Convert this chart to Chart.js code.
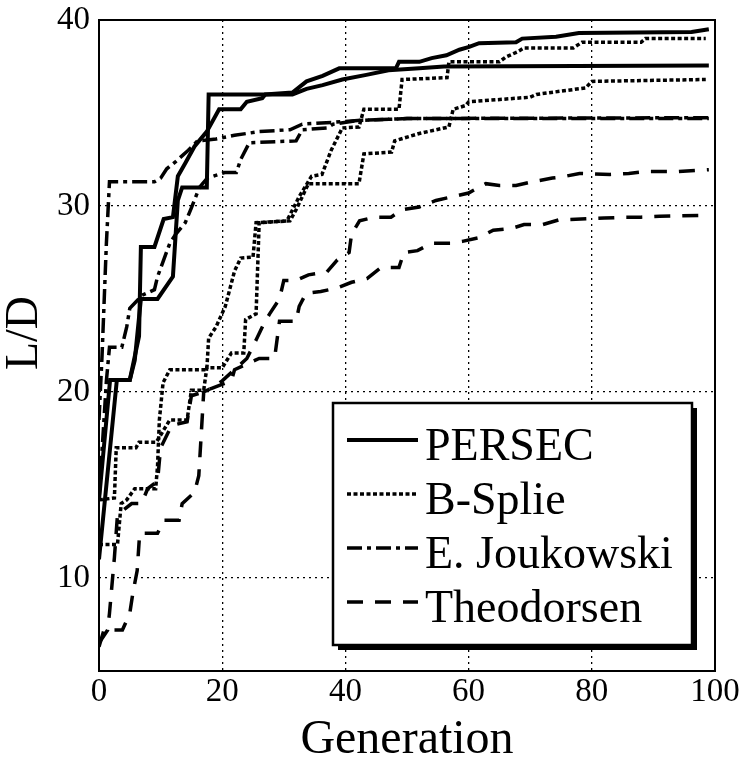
<!DOCTYPE html>
<html>
<head>
<meta charset="utf-8">
<title>L/D vs Generation</title>
<script src="https://cdn.jsdelivr.net/npm/chart.js@4.4.1/dist/chart.umd.min.js"></script>
<style>
  html, body { margin: 0; padding: 0; background: #fff; }
</style>
</head>
<body>
<canvas id="myChart" width="744" height="764"></canvas>
<script>
// axis ticks
const genTicks = [0, 20, 40, 60, 80, 100];
const ldTicks = [10, 20, 30, 40];
const methods = ['PERSEC', 'B-Splie', 'E. Joukowski', 'Theodorsen'];

// two runs per method (generation -> L/D)
const persecAGen = [0, 2.9, 5, 5.8, 6.8, 9.5, 12, 12.8, 13.5, 17.5, 17.8, 26.5, 31.4, 33.7, 36.3, 39.5, 43.4, 47, 52, 56, 99];
const persecALD  = [11.0, 20.65, 20.65, 21.7, 25.0, 25.0, 26.2, 30.3, 31.0, 31.0, 36.0, 36.0, 36.0, 36.3, 36.5, 36.8, 37.05, 37.3, 37.4, 37.5, 37.55];
const persecBGen = [0, 1.8, 5, 6.5, 6.8, 9, 10.5, 12, 12.8, 14, 15.5, 17.5, 19.5, 23, 24, 26.5, 27, 31.4, 33.7, 36.3, 39, 48.2, 48.7, 52, 54, 56.4, 58.5, 60.1, 61.7, 67.7, 68.7, 74.2, 77.9, 96.2, 99];
const persecBLD  = [14.2, 20.65, 20.65, 23.0, 27.8, 27.8, 29.3, 29.4, 31.6, 32.3, 33.2, 34.0, 35.2, 35.2, 35.6, 35.8, 36.0, 36.1, 36.7, 37.0, 37.4, 37.4, 37.75, 37.75, 37.95, 38.1, 38.4, 38.55, 38.75, 38.8, 39.0, 39.1, 39.3, 39.35, 39.5];

const bsplineAGen = [0, 2.5, 2.8, 6, 6.5, 9.3, 11.5, 14.3, 15, 17, 17.5, 20, 21.5, 23.5, 23.8, 25.5, 26, 30.5, 32.5, 34.5, 36.2, 37.7, 39.5, 42.2, 43, 48.7, 49.2, 56.5, 56.8, 65, 66, 68, 69, 77, 78.4, 88, 88.7, 98.5];
const bsplineALD  = [14.2, 14.3, 17.0, 17.0, 17.3, 17.3, 18.5, 18.5, 20.1, 20.1, 21.3, 21.3, 22.1, 22.1, 23.9, 24.2, 29.1, 29.2, 30.5, 31.6, 31.7, 33.0, 34.2, 34.25, 35.2, 35.2, 36.8, 36.9, 37.75, 37.75, 38.0, 38.3, 38.5, 38.5, 38.8, 38.8, 39.0, 39.0];
const bsplineBGen = [0, 3, 3.6, 4.5, 5.8, 9.2, 9.5, 9.8, 10.4, 11.5, 17.5, 17.8, 19, 20.5, 22, 23, 25, 25.5, 31, 32, 34, 42.2, 43, 47.5, 48, 52, 56.8, 57.5, 59.5, 60, 70, 71, 79, 80, 98.5];
const bsplineBLD  = [11.8, 11.8, 14.0, 14.2, 14.8, 14.8, 16.0, 18.5, 20.5, 21.2, 21.2, 22.9, 23.5, 24.6, 26.5, 27.2, 27.25, 29.1, 29.2, 29.8, 31.2, 31.2, 32.8, 32.9, 33.5, 33.9, 34.25, 35.2, 35.4, 35.6, 35.85, 36.0, 36.35, 36.7, 36.8];

const joukAGen = [0, 0.5, 1.2, 1.7, 9, 10, 11, 12.5, 14.5, 16, 19, 22, 26, 31, 33, 38, 42, 50, 99];
const joukALD  = [18.5, 22.0, 28.0, 31.3, 31.3, 31.5, 32.0, 32.4, 33.0, 33.5, 33.6, 33.8, 34.0, 34.1, 34.4, 34.5, 34.6, 34.7, 34.75];
const joukBGen = [0, 1.2, 1.7, 3.7, 4.5, 5, 7, 9, 9.5, 11.5, 12.5, 14, 15, 16.3, 17.6, 20.4, 22.3, 23, 24.4, 32, 33, 37, 38, 42, 50, 99];
const joukBLD  = [14.2, 20.6, 22.4, 22.4, 23.5, 24.5, 25.2, 25.5, 26.2, 28.0, 28.5, 29.1, 29.9, 31.0, 31.5, 31.8, 31.8, 32.5, 33.4, 33.5, 34.1, 34.2, 34.4, 34.6, 34.7, 34.7];

const theoAGen = [0, 0.8, 3.8, 5, 5.5, 6.2, 6.6, 9.5, 10.5, 13, 13.5, 15.5, 16.2, 17, 18.3, 20, 22, 24, 25.5, 26.8, 27.7, 29.3, 30, 32, 34, 37, 38.7, 40.6, 41, 42.3, 44.7, 47.4, 49.2, 52, 54.7, 57.4, 60, 62.8, 65, 67.7, 70.3, 73.6, 75, 78, 83, 86, 88.7, 94, 99];
const theoALD  = [6.3, 7.2, 7.2, 8.1, 9.2, 10.4, 12.4, 12.4, 13.1, 13.1, 14.0, 14.6, 15.5, 20.0, 20.2, 20.6, 21.2, 21.8, 22.8, 23.7, 24.2, 25.0, 26.0, 26.0, 26.3, 26.45, 27.1, 27.5, 28.5, 29.2, 29.4, 29.4, 29.8, 29.95, 30.3, 30.5, 30.7, 31.2, 31.1, 31.1, 31.3, 31.5, 31.55, 31.75, 31.7, 31.75, 31.85, 31.85, 31.95];
const theoBGen = [0, 1.4, 1.7, 2.5, 3, 5.3, 6.9, 7.9, 9.5, 10, 11.8, 14.3, 15, 17, 18.3, 21.5, 22, 26, 28.5, 29.3, 32, 32.5, 33.6, 36, 38.7, 41, 43.5, 45.8, 48.7, 49.5, 51.7, 54, 57, 59, 61.7, 64, 67, 69, 72, 74.6, 82, 85.5, 88, 91, 99];
const theoBLD  = [6.5, 7.2, 8.1, 11.1, 13.4, 14.0, 14.0, 14.8, 15.2, 17.0, 18.2, 18.4, 19.8, 20.0, 20.2, 20.6, 21.2, 21.8, 21.8, 23.8, 23.8, 24.6, 25.3, 25.4, 25.6, 25.9, 26.1, 26.7, 26.7, 27.5, 27.6, 28.0, 28.0, 28.1, 28.3, 28.7, 28.8, 29.0, 29.0, 29.25, 29.35, 29.4, 29.4, 29.45, 29.5];

// line styles per method
const lineStyles = {
  'PERSEC':       { width: 4,   dash: [] },
  'B-Splie':      { width: 3.5, dash: [4, 2.5] },
  'E. Joukowski': { width: 3.5, dash: [15, 5, 4, 5] },
  'Theodorsen':   { width: 3.5, dash: [16, 12] }
};

const serif = "'Liberation Serif', 'Times New Roman', Times, serif";
Chart.defaults.font.family = serif;
Chart.defaults.color = '#000';

function pts(gens, vals) {
  return gens.map(function(g, i) { return { x: g, y: vals[i] }; });
}

function makeSet(method, gens, vals) {
  const st = lineStyles[method];
  return {
    label: method,
    data: pts(gens, vals),
    borderColor: '#000',
    backgroundColor: '#000',
    borderWidth: st.width,
    borderDash: st.dash,
    borderCapStyle: 'butt',
    borderJoinStyle: 'miter',
    pointRadius: 0,
    tension: 0,
    fill: false
  };
}

// frame round the plot, the y title and the boxed legend with its shadow
const frameAndLegend = {
  id: 'frameAndLegend',
  afterDatasetsDraw(chart) {
    const ctx = chart.ctx, a = chart.chartArea;
    ctx.save();
    ctx.setLineDash([]);
    ctx.strokeStyle = '#000';
    ctx.lineWidth = 2;
    ctx.strokeRect(a.left, a.top, a.right - a.left, a.bottom - a.top);

    // y axis title
    ctx.save();
    ctx.translate(25, 333);
    ctx.rotate(-Math.PI / 2);
    ctx.font = '46px ' + serif;
    ctx.textAlign = 'center';
    ctx.textBaseline = 'middle';
    ctx.fillStyle = '#000';
    ctx.fillText('L/D', 0, 0);
    ctx.restore();

    const bx = 333, by = 403, bw = 359, bh = 242;
    ctx.fillStyle = '#000';
    ctx.fillRect(bx + 5, by + 5, bw, bh);
    ctx.fillStyle = '#fff';
    ctx.fillRect(bx, by, bw, bh);
    ctx.lineWidth = 2.5;
    ctx.strokeRect(bx, by, bw, bh);

    ctx.font = '46px ' + serif;
    ctx.textBaseline = 'alphabetic';
    ctx.textAlign = 'left';
    methods.forEach(function(m, i) {
      const st = lineStyles[m];
      const ly = 440 + i * 54;
      ctx.beginPath();
      ctx.lineWidth = st.width;
      ctx.setLineDash(st.dash);
      ctx.lineCap = 'butt';
      ctx.moveTo(347, ly);
      ctx.lineTo(418, ly);
      ctx.stroke();
      ctx.setLineDash([]);
      ctx.fillStyle = '#000';
      ctx.fillText(m, 425, ly + 20);
    });
    ctx.restore();
  }
};

const ctx = document.getElementById('myChart').getContext('2d');
const chart = new Chart(ctx, {
  type: 'line',
  data: {
    datasets: [
      makeSet('PERSEC', persecAGen, persecALD),
      makeSet('PERSEC', persecBGen, persecBLD),
      makeSet('B-Splie', bsplineAGen, bsplineALD),
      makeSet('B-Splie', bsplineBGen, bsplineBLD),
      makeSet('E. Joukowski', joukAGen, joukALD),
      makeSet('E. Joukowski', joukBGen, joukBLD),
      makeSet('Theodorsen', theoAGen, theoALD),
      makeSet('Theodorsen', theoBGen, theoBLD)
    ]
  },
  options: {
    responsive: false,
    animation: false,
    devicePixelRatio: 1,
    layout: { padding: { left: 0, top: 20, right: 29, bottom: 0 } },
    plugins: { legend: { display: false }, tooltip: { enabled: false } },
    scales: {
      x: {
        type: 'linear',
        min: 0, max: 100,
        afterBuildTicks: function(s) { s.ticks = genTicks.map(function(v) { return { value: v }; }); },
        afterFit: function(s) { s.height = 93; s.paddingLeft = 0; s.paddingRight = 0; },
        grid: { color: '#000', lineWidth: 1.3, drawTicks: false },
        border: { display: false, dash: [2, 4] },
        ticks: { font: { size: 33 }, padding: 2, maxRotation: 0, autoSkip: false },
        title: { display: true, text: 'Generation', font: { size: 48, lineHeight: 1 }, padding: 0 }
      },
      y: {
        type: 'linear',
        min: 5, max: 40,
        afterBuildTicks: function(s) { s.ticks = ldTicks.map(function(v) { return { value: v }; }); },
        afterFit: function(s) { s.width = 99; s.paddingTop = 0; s.paddingBottom = 0; },
        grid: { color: '#000', lineWidth: 1.3, drawTicks: false },
        border: { display: false, dash: [2, 4] },
        ticks: { font: { size: 33 }, padding: 9 },
        title: { display: false }
      }
    }
  },
  plugins: [frameAndLegend]
});
</script>
</body>
</html>
